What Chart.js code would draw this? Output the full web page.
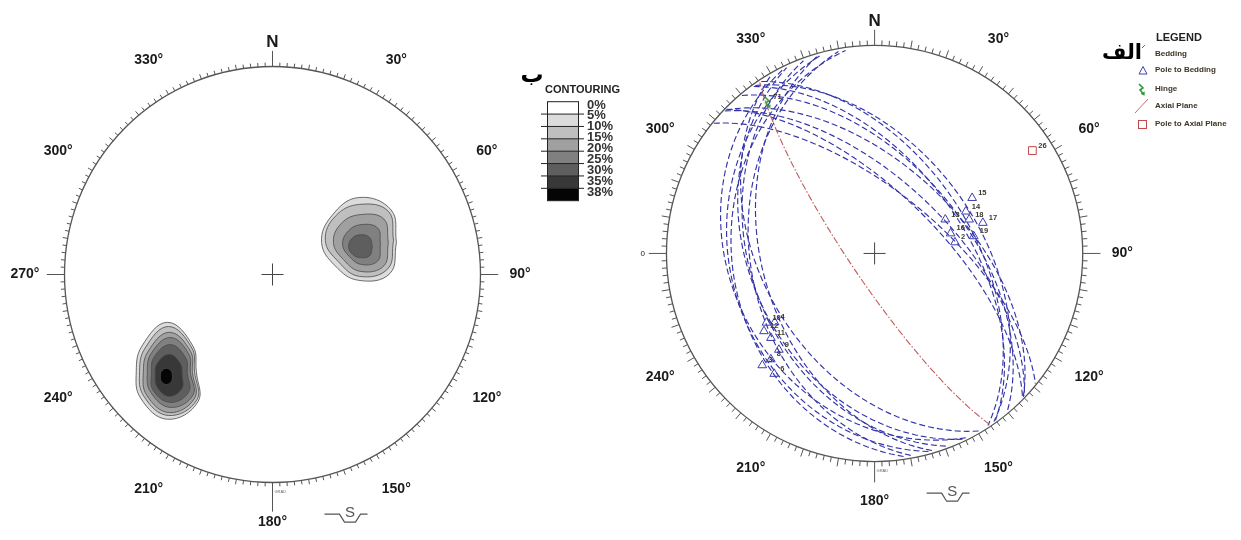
<!DOCTYPE html>
<html>
<head>
<meta charset="utf-8">
<script src="https://cdn.jsdelivr.net/npm/chart.js@4.4.0/dist/chart.umd.min.js"></script>
<style>
  html, body { margin: 0; padding: 0; background: #fff; }
  #wrap { position: relative; width: 1241px; height: 540px; }
  .layer { position: absolute; left: 0; top: 0; width: 1241px; height: 540px; }
</style>
</head>
<body>
<div id="wrap">
  <div class="layer"><canvas id="contourNet"></canvas></div>
  <div class="layer"><canvas id="beddingNet"></canvas></div>
</div>
<script>
// azimuth labels round the nets
const azimuths = [30, 60, 90, 120, 150, 180, 210, 240, 270, 300, 330];
const leftAzLabels = ['30°', '60°', '90°', '120°', '150°', '180°', '210°', '240°', '270°', '300°', '330°'];
const rightAzLabels = ['30°', '60°', '90°', '120°', '150°', '180°', '210°', '240°', '0', '300°', '330°'];

// contour legend
const contourLevels = ['0%', '5%', '10%', '15%', '20%', '25%', '30%', '35%', '38%'];

// NE pole cluster, contour rings (centre + radii at E, NE, N, NW, W, SW, S, SE; net radius = 1)
const neLevels = [5, 10, 15, 20, 25];
const neCentres = [[0.414, 0.154], [0.418, 0.164], [0.423, 0.154], [0.428, 0.144], [0.423, 0.134]];
const neRadii = [
  [0.182, 0.221, 0.216, 0.182, 0.178, 0.159, 0.182, 0.212],
  [0.164, 0.197, 0.173, 0.164, 0.164, 0.144, 0.173, 0.193],
  [0.134, 0.159, 0.134, 0.130, 0.130, 0.116, 0.139, 0.159],
  [0.091, 0.111, 0.096, 0.091, 0.091, 0.082, 0.096, 0.111],
  [0.057, 0.062, 0.057, 0.057, 0.057, 0.053, 0.053, 0.062]
];

// SW pole cluster
const swLevels = [5, 10, 15, 20, 25, 30, 35];
const swCentres = [[-0.505, -0.466], [-0.500, -0.466], [-0.496, -0.471], [-0.491, -0.471], [-0.491, -0.476], [-0.496, -0.485], [-0.510, -0.490]];
const swRadii = [
  [0.139, 0.173, 0.236, 0.173, 0.150, 0.182, 0.230, 0.207],
  [0.125, 0.159, 0.216, 0.159, 0.139, 0.168, 0.212, 0.193],
  [0.111, 0.144, 0.193, 0.144, 0.125, 0.154, 0.193, 0.173],
  [0.096, 0.125, 0.168, 0.130, 0.111, 0.134, 0.168, 0.154],
  [0.082, 0.105, 0.139, 0.111, 0.091, 0.116, 0.139, 0.125],
  [0.062, 0.077, 0.101, 0.082, 0.068, 0.082, 0.101, 0.087],
  [0.029, 0.034, 0.039, 0.034, 0.029, 0.034, 0.039, 0.034]
];

// bedding planes (dip direction / dip) and their numbers
const bedDipDir = [240, 245, 250, 244, 254, 255, 260, 262, 57, 55, 54.5, 50.4, 44.7, 44, 39.4, 44.4];
const bedDip = [45, 40, 40, 31, 45, 31, 40, 32, 52, 49, 55, 54.4, 65.7, 61, 65, 55.4];
const bedLabels = ['15', '14', '18', '13', '17', '16', '19', '2', '10', '4', '12', '11', '3', '8', '6', '9'];

// fold hinge, axial plane
const hingeTrend = [325];
const hingePlunge = [11];
const hingeLabels = ['71'];
const axialDipDir = [236.5];
const axialDip = [80];
const axialPoleLabels = ['26'];

const bandFill = { 0: '#ffffff', 5: '#dcdcdc', 10: '#bfbfbf', 15: '#a0a0a0', 20: '#808080', 25: '#5e5e5e', 30: '#383838', 35: '#050505' };
const FONT = '"Liberation Sans", Arial, sans-serif';

const rad = d => d * Math.PI / 180;

// equal-area (Schmidt) lower hemisphere
function project(trend, plunge) {
  const r = Math.sqrt(1 - Math.sin(rad(plunge)));
  return { x: r * Math.sin(rad(trend)), y: r * Math.cos(rad(trend)) };
}

function greatCircle(dipDir, dip) {
  const s = rad(dipDir - 90), d = rad(dipDir), p = rad(dip);
  const pts = [];
  for (let a = 0; a <= 180; a += 2) {
    const t = rad(a);
    const e = Math.cos(t) * Math.sin(s) + Math.sin(t) * Math.sin(d) * Math.cos(p);
    const n = Math.cos(t) * Math.cos(s) + Math.sin(t) * Math.cos(d) * Math.cos(p);
    const dn = Math.max(0, Math.min(1, Math.sin(t) * Math.sin(p)));
    const h = Math.hypot(e, n) || 1;
    const r = Math.sqrt(1 - dn);
    pts.push({ x: r * e / h, y: r * n / h });
  }
  return pts;
}

function ring(c, r) {
  const pts = r.map((v, i) => ({ x: c[0] + v * Math.cos(i * Math.PI / 4), y: c[1] + v * Math.sin(i * Math.PI / 4) }));
  pts.push(pts[0]);
  return pts;
}

const netFrame = {
  id: 'netFrame',
  beforeDatasetsDraw(chart, args, o) {
    const { ctx, scales: { x, y } } = chart;
    const cx = x.getPixelForValue(0), cy = y.getPixelForValue(0);
    const R = x.getPixelForValue(1) - cx;
    ctx.save();
    ctx.strokeStyle = '#555';
    ctx.lineWidth = 1.3;
    ctx.beginPath();
    ctx.arc(cx, cy, R, 0, 2 * Math.PI);
    ctx.stroke();
    ctx.lineWidth = 1;
    for (let a = 0; a < 360; a += 2) {
      const s = Math.sin(rad(a)), c = Math.cos(rad(a));
      let len = a % 10 === 0 ? o.tickLong : o.tickShort;
      if (a === 0) len = 0.075 * R;
      else if (a === 180) len = o.southLen * R;
      else if (a % 90 === 0) len = 0.085 * R;
      ctx.beginPath();
      ctx.moveTo(cx + R * s, cy - R * c);
      ctx.lineTo(cx + (R + len) * s, cy - (R + len) * c);
      ctx.stroke();
    }
    // centre cross
    ctx.strokeStyle = '#444';
    ctx.beginPath();
    ctx.moveTo(cx - 11, cy); ctx.lineTo(cx + 11, cy);
    ctx.moveTo(cx, cy - 11); ctx.lineTo(cx, cy + 11);
    ctx.stroke();
    // azimuth labels
    ctx.fillStyle = '#1a1a1a';
    ctx.textAlign = 'center';
    ctx.textBaseline = 'middle';
    o.labels.forEach((lbl, i) => {
      const a = rad(azimuths[i]);
      let f = o.labelR;
      if (lbl.length < 2) f = 1.114;
      ctx.font = lbl.length < 2 ? '8px ' + FONT : 'bold 14px ' + FONT;
      ctx.fillText(lbl, cx + f * R * Math.sin(a), cy - f * R * Math.cos(a));
    });
    ctx.font = 'bold 17px ' + FONT;
    ctx.fillText('N', cx, cy - o.northR * R);
    ctx.font = '4px ' + FONT;
    ctx.fillStyle = '#666';
    ctx.textAlign = 'left';
    ctx.fillText('GRAD', cx + 2, cy + R + 9);
    // south arrow symbol
    ctx.textAlign = 'center';
    ctx.strokeStyle = '#555';
    ctx.lineWidth = 1.2;
    const sx = cx + 0.25 * R, sy = cy + 1.152 * R;
    ctx.beginPath();
    ctx.moveTo(sx, sy); ctx.lineTo(sx + 15, sy); ctx.lineTo(sx + 20, sy + 8);
    ctx.lineTo(sx + 31, sy + 8); ctx.lineTo(sx + 36, sy); ctx.lineTo(sx + 43, sy);
    ctx.stroke();
    ctx.font = '15px ' + FONT;
    ctx.fillStyle = '#555';
    ctx.fillText('S', sx + 25.5, sy - 1);
    ctx.restore();
  }
};

const pointTags = {
  id: 'pointTags',
  afterDatasetsDraw(chart) {
    const ctx = chart.ctx;
    ctx.save();
    ctx.font = 'bold 7.5px ' + FONT;
    ctx.fillStyle = '#3a3a2a';
    ctx.textAlign = 'left';
    ctx.textBaseline = 'middle';
    chart.data.datasets.forEach((ds, i) => {
      if (!ds.pointLabels) return;
      chart.getDatasetMeta(i).data.forEach((el, j) => {
        ctx.fillText(ds.pointLabels[j], el.x + 6, el.y - 5);
      });
    });
    ctx.restore();
  }
};

const contourKey = {
  id: 'contourKey',
  afterDraw(chart) {
    const ctx = chart.ctx;
    ctx.save();
    ctx.fillStyle = '#000';
    ctx.textBaseline = 'middle';
    ctx.textAlign = 'center';
    ctx.font = 'bold 23px "DejaVu Sans", sans-serif';
    ctx.fillText('ب', 532, 76);
    ctx.textAlign = 'left';
    ctx.font = 'bold 11px ' + FONT;
    ctx.fillStyle = '#222';
    ctx.fillText('CONTOURING', 545, 90);
    const top = 101.7, h = 12.375, left = 547, w = 31;
    for (let i = 0; i < contourLevels.length - 1; i++) {
      ctx.fillStyle = bandFill[parseInt(contourLevels[i], 10)];
      ctx.fillRect(left, top + i * h, w, h);
    }
    ctx.strokeStyle = '#222';
    ctx.lineWidth = 1;
    ctx.strokeRect(left + 0.5, top, w, h * 8);
    for (let i = 1; i < contourLevels.length - 1; i++) {
      ctx.beginPath();
      ctx.moveTo(541, top + i * h);
      ctx.lineTo(584, top + i * h);
      ctx.stroke();
    }
    ctx.font = 'bold 13px ' + FONT;
    ctx.fillStyle = '#333';
    contourLevels.forEach((lbl, i) => ctx.fillText(lbl, 587, 105 + i * 10.9));
    ctx.restore();
  }
};

const hingeIcon = document.createElement('canvas');
hingeIcon.width = 9; hingeIcon.height = 13;
(function () {
  const c = hingeIcon.getContext('2d');
  c.strokeStyle = '#2f9a3a'; c.fillStyle = '#2f9a3a'; c.lineWidth = 1.6;
  c.beginPath(); c.moveTo(2, 1); c.lineTo(6, 5); c.lineTo(3, 7); c.lineTo(6.5, 11); c.stroke();
  c.beginPath(); c.moveTo(7.5, 12.8); c.lineTo(3.5, 10.8); c.lineTo(7.8, 8.6); c.fill();
})();

const beddingKey = {
  id: 'beddingKey',
  afterDraw(chart) {
    const ctx = chart.ctx;
    ctx.save();
    ctx.textBaseline = 'middle';
    ctx.textAlign = 'center';
    ctx.fillStyle = '#000';
    ctx.font = 'bold 21px "DejaVu Sans", sans-serif';
    ctx.fillText('الف', 1122, 54);
    ctx.textAlign = 'left';
    ctx.font = 'bold 11px ' + FONT;
    ctx.fillStyle = '#222';
    ctx.fillText('LEGEND', 1156, 38);
    ctx.font = 'bold 8px ' + FONT;
    ctx.fillStyle = '#3d3426';
    const names = ['Bedding', 'Pole to Bedding', 'Hinge', 'Axial Plane', 'Pole to Axial Plane'];
    const rows = [54, 70, 89, 106, 124];
    names.forEach((n, i) => ctx.fillText(n, 1155, rows[i]));
    ctx.lineWidth = 1;
    ctx.strokeStyle = '#6a6ad0';
    ctx.beginPath(); ctx.moveTo(1142, 48); ctx.lineTo(1145, 45); ctx.stroke();
    ctx.strokeStyle = '#4040b0';
    ctx.beginPath(); ctx.moveTo(1139, 74); ctx.lineTo(1147, 74); ctx.lineTo(1143, 66.5); ctx.closePath(); ctx.stroke();
    ctx.drawImage(hingeIcon, 1137, 83);
    ctx.strokeStyle = '#d06868';
    ctx.beginPath(); ctx.moveTo(1135, 113); ctx.lineTo(1148, 99); ctx.stroke();
    ctx.strokeStyle = '#c04848';
    ctx.strokeRect(1138.5, 120.5, 8, 8);
    ctx.restore();
  }
};

function baseOptions(xmin, xmax, ymin, ymax) {
  return {
    responsive: true,
    maintainAspectRatio: false,
    animation: false,
    layout: { padding: 0 },
    events: [],
    scales: {
      x: { type: 'linear', display: false, min: xmin, max: xmax },
      y: { type: 'linear', display: false, min: ymin, max: ymax }
    },
    plugins: { legend: { display: false }, tooltip: { enabled: false } }
  };
}

// left net: pole density contours
const contourSets = [];
function addRings(levels, centres, radii) {
  levels.forEach((lv, i) => {
    contourSets.push({
      data: ring(centres[i], radii[i]),
      showLine: true,
      fill: 'shape',
      backgroundColor: bandFill[lv],
      borderColor: '#4a4a4a',
      borderWidth: 0.8,
      pointRadius: 0,
      tension: 0.42,
      order: 60 - i
    });
  });
}
addRings(neLevels, neCentres, neRadii);
addRings(swLevels, swCentres, swRadii);

const LC = [272.5, 274.5], LR = 208;
const leftOpts = baseOptions(-LC[0] / LR, (1241 - LC[0]) / LR, -(540 - LC[1]) / LR, LC[1] / LR);
leftOpts.plugins.netFrame = { labels: leftAzLabels, labelR: 1.19, northR: 1.118, southLen: 0.14, tickShort: 4, tickLong: 5 };
new Chart(document.getElementById('contourNet'), {
  type: 'scatter',
  data: { datasets: contourSets },
  options: leftOpts,
  plugins: [netFrame, contourKey]
});

// right net: bedding great circles, poles, hinge, axial plane
const bedSets = bedDipDir.map((dd, i) => ({
  data: greatCircle(dd, bedDip[i]),
  showLine: true,
  borderColor: '#3434a8',
  borderWidth: 1.15,
  borderDash: [6, 3],
  pointRadius: 0,
  order: 20
}));
bedSets.push({
  data: greatCircle(axialDipDir[0], axialDip[0]),
  showLine: true,
  borderColor: '#c45a5a',
  borderWidth: 1.1,
  borderDash: [7, 2, 1.5, 2],
  pointRadius: 0,
  order: 15
});
bedSets.push({
  data: bedDipDir.map((dd, i) => project(dd + 180, 90 - bedDip[i])),
  pointStyle: 'triangle',
  pointRadius: 5,
  borderColor: '#3c3cb0',
  backgroundColor: 'rgba(0,0,0,0)',
  borderWidth: 1,
  pointLabels: bedLabels,
  order: 5
});
bedSets.push({
  data: hingeTrend.map((t, i) => project(t, hingePlunge[i])),
  pointStyle: hingeIcon,
  pointRadius: 6,
  pointLabels: hingeLabels,
  order: 4
});
bedSets.push({
  data: axialDipDir.map((dd, i) => project(dd + 180, 90 - axialDip[i])),
  pointStyle: 'rect',
  pointRadius: 5.5,
  borderColor: '#c04848',
  backgroundColor: 'rgba(0,0,0,0)',
  borderWidth: 1,
  pointLabels: axialPoleLabels,
  order: 4
});

const RC = [877.5, 253], RR = 210.5;
const rightOpts = baseOptions(-RC[0] / RR, (1241 - RC[0]) / RR, -(540 - RC[1]) / RR, RC[1] / RR);
rightOpts.plugins.netFrame = { labels: rightAzLabels, labelR: 1.19, northR: 1.116, southLen: 0.1, tickShort: 5, tickLong: 8 };
new Chart(document.getElementById('beddingNet'), {
  type: 'scatter',
  data: { datasets: bedSets },
  options: rightOpts,
  plugins: [netFrame, pointTags, beddingKey]
});
</script>
</body>
</html>
